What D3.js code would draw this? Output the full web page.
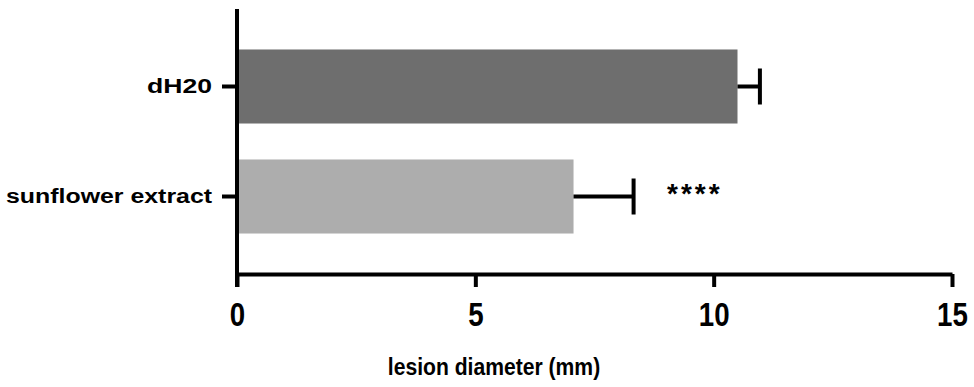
<!DOCTYPE html>
<html>
<head>
<meta charset="utf-8">
<script src="https://cdn.jsdelivr.net/npm/d3@7"></script>
<style>
  body { margin: 0; background: #fff; }
  text { font-family: "Liberation Sans", Arial, sans-serif; font-weight: bold; fill: #000; }
</style>
</head>
<body>
<div id="chart"></div>
<script>
// data
var groups = ["dH2O", "sunflower extract"];
var labels = ["dH20", "sunflower extract"];
var means = [10.5, 7.06];
var errs = [0.47, 1.26];
var colors = ["#6e6e6e", "#adadad"];
var xTicks = [0, 5, 10, 15];
var stars = ["", "****"];

var w = 974, h = 387;
var axisY = 274, topY = 9;
var tick = 13;

var svg = d3.select("#chart").append("svg")
  .attr("width", w)
  .attr("height", h);

var x = d3.scaleLinear().domain([0, 15]).range([237, 952]);
var y = d3.scaleBand().domain(groups).range([topY, axisY])
  .paddingInner(0.327).paddingOuter(0.368);

// bars
svg.selectAll(".bar").data(groups).enter()
  .append("rect")
  .attr("class", "bar")
  .attr("x", x(0))
  .attr("y", function(d) { return y(d); })
  .attr("width", function(d, i) { return x(means[i]) - x(0); })
  .attr("height", y.bandwidth())
  .attr("fill", function(d, i) { return colors[i]; });

// error bars
var eb = svg.selectAll(".err").data(groups).enter().append("g").attr("class", "err");
eb.append("line")
  .attr("x1", function(d, i) { return x(means[i]); })
  .attr("x2", function(d, i) { return x(means[i] + errs[i]); })
  .attr("y1", function(d) { return y(d) + y.bandwidth() / 2; })
  .attr("y2", function(d) { return y(d) + y.bandwidth() / 2; })
  .attr("stroke", "#000").attr("stroke-width", 4);
eb.append("line")
  .attr("x1", function(d, i) { return x(means[i] + errs[i]); })
  .attr("x2", function(d, i) { return x(means[i] + errs[i]); })
  .attr("y1", function(d) { return y(d) + y.bandwidth() / 2 - 18; })
  .attr("y2", function(d) { return y(d) + y.bandwidth() / 2 + 18; })
  .attr("stroke", "#000").attr("stroke-width", 4);

// significance
svg.selectAll(".star").data(groups).enter()
  .append("text")
  .attr("class", "star")
  .attr("x", 667)
  .attr("y", function(d) { return y(d) + y.bandwidth() / 2 + 6; })
  .attr("font-size", 28)
  .attr("letter-spacing", 3)
  .text(function(d, i) { return stars[i]; });

// x axis
var xAxis = d3.axisBottom(x).tickValues(xTicks).tickSize(tick).tickSizeOuter(0).tickPadding(16);
var gx = svg.append("g")
  .attr("transform", "translate(0," + axisY + ")")
  .call(xAxis);
gx.select(".domain").attr("stroke-width", 4);
gx.selectAll(".tick line").attr("stroke-width", 4);
gx.selectAll(".tick text").attr("font-family", null).attr("font-size", 33)
  .attr("transform", "scale(0.84,1)");

// y axis
var yAxis = d3.axisLeft(y).tickSize(15).tickSizeOuter(0).tickPadding(10)
  .tickFormat(function(d, i) { return labels[i]; });
var gy = svg.append("g")
  .attr("transform", "translate(" + x(0) + ",0)")
  .call(yAxis);
gy.select(".domain").remove();
gy.selectAll(".tick text").attr("font-family", null);
gy.selectAll(".tick line").attr("stroke-width", 4);
gy.selectAll(".tick text").attr("font-size", 20)
  .attr("textLength", function(d, i) { return i === 0 ? 65 : 206; })
  .attr("lengthAdjust", "spacingAndGlyphs");
svg.append("line")
  .attr("x1", x(0)).attr("x2", x(0))
  .attr("y1", topY).attr("y2", axisY + tick)
  .attr("stroke", "#000").attr("stroke-width", 4);

// axis title
svg.append("g")
  .attr("transform", "translate(494,375) scale(0.88,1)")
  .append("text")
  .attr("text-anchor", "middle")
  .attr("font-size", 24)
  .text("lesion diameter (mm)");
</script>
</body>
</html>
